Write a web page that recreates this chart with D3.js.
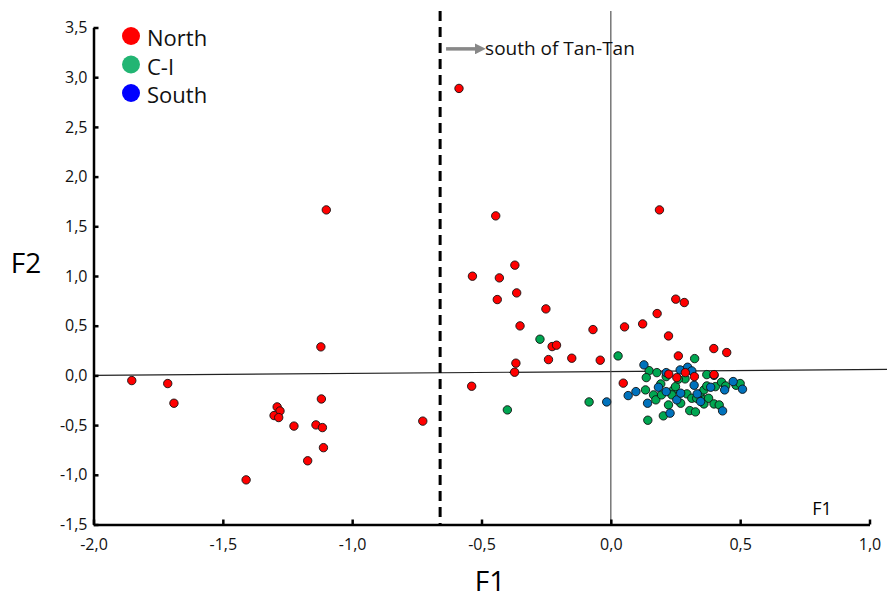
<!DOCTYPE html>
<html>
<head>
<meta charset="utf-8">
<script src="https://cdn.jsdelivr.net/npm/d3@7"></script>
<style>
  body { margin: 0; background: #fff; }
  .axis text { font-family: "Open Sans", sans-serif; font-size: 16px; fill: #111; }
  .axis path, .axis line { stroke: #000; stroke-width: 2.5; }
</style>
</head>
<body>
<div class="chart"></div>
<script>
// DATA ------------------------------
const groups = ["North", "C-I", "South"];
const groupColors = ["#ff0000", "#00a651", "#0072bc"];
const legendColors = ["#ff0000", "#22b573", "#0000ff"];
const xTicks = [-2.0, -1.5, -1.0, -0.5, 0.0, 0.5, 1.0];
const yTicks = [-1.5, -1.0, -0.5, 0.0, 0.5, 1.0, 1.5, 2.0, 2.5, 3.0, 3.5];

// [F1, F2]
const north = [
  [-1.852, -0.052], [-1.713, -0.082], [-1.689, -0.28], [-1.121, 0.287], [-1.119, -0.237],
  [-1.290, -0.317], [-1.279, -0.358], [-1.302, -0.404], [-1.284, -0.424], [-1.225, -0.51],
  [-1.140, -0.498], [-1.115, -0.525], [-1.111, -0.727], [-1.172, -0.859], [-1.410, -1.051],
  [-0.727, -0.46], [-1.100, 1.665], [-0.587, 2.887], [-0.445, 1.605], [-0.535, 0.998],
  [-0.431, 0.981], [-0.371, 1.109], [-0.439, 0.763], [-0.364, 0.83], [-0.251, 0.669],
  [-0.351, 0.498], [-0.069, 0.461], [0.053, 0.488], [0.123, 0.518], [0.179, 0.622],
  [-0.227, 0.29], [-0.210, 0.304], [-0.241, 0.159], [-0.151, 0.173], [-0.041, 0.153],
  [-0.367, 0.123], [-0.372, 0.032], [-0.538, -0.109], [0.048, -0.078], [0.188, 1.665],
  [0.251, 0.767], [0.284, 0.733], [0.223, 0.397], [0.261, 0.196], [0.398, 0.27],
  [0.448, 0.23], [0.224, 0.012], [0.255, -0.022], [0.288, 0.028], [0.323, -0.012],
  [0.399, 0.008]
];
const ci = [
  [-0.274, 0.364], [0.028, 0.196], [-0.400, -0.347], [-0.084, -0.267], [0.324, 0.169],
  [0.148, 0.048], [0.178, 0.028], [0.137, -0.022], [0.134, -0.146], [0.143, -0.451],
  [0.203, -0.407], [0.193, -0.086], [0.165, -0.196], [0.174, -0.246], [0.196, -0.196],
  [0.223, -0.297], [0.214, -0.012], [0.242, -0.146], [0.250, -0.113], [0.236, -0.196],
  [0.270, -0.28], [0.287, -0.035], [0.294, -0.186], [0.313, -0.23], [0.305, -0.354],
  [0.327, -0.367], [0.332, -0.23], [0.345, -0.186], [0.360, -0.146], [0.371, -0.106],
  [0.371, 0.008], [0.360, -0.246], [0.360, -0.287], [0.378, -0.23], [0.399, -0.287],
  [0.404, -0.113], [0.419, -0.297], [0.428, -0.068], [0.444, -0.106], [0.484, -0.099],
  [0.500, -0.082], [0.261, -0.038]
];
const south = [
  [0.128, 0.106], [-0.016, -0.267], [0.067, -0.203], [0.097, -0.163], [0.142, -0.28],
  [0.184, -0.119], [0.229, -0.38], [0.214, 0.028], [0.268, 0.055], [0.297, 0.082],
  [0.313, 0.045], [0.214, -0.163], [0.255, -0.246], [0.270, -0.179], [0.322, -0.099],
  [0.334, -0.186], [0.347, -0.263], [0.386, -0.119], [0.432, -0.357], [0.440, -0.146],
  [0.473, -0.062], [0.509, -0.139], [0.399, 0.0]
];

// CHART INIT ------------------------------
const width = 887, height = 602;

const svg = d3.select(".chart")
  .append("svg")
  .attr("width", width)
  .attr("height", height);

const xScale = d3.scaleLinear().domain([-2, 1]).range([93.5, 869.5]);
const yScale = d3.scaleLinear().domain([-1.5, 3.5]).range([524.5, 27.5]);

const fmt = v => v.toFixed(1).replace(".", ",");

// zero lines (the horizontal one is slightly tilted in the original)
svg.append("line")
  .attr("x1", xScale(-2)).attr("y1", yScale(0))
  .attr("x2", xScale(1.068)).attr("y2", yScale(0.06))
  .attr("stroke", "#222").attr("stroke-width", 1.2);

svg.append("line")
  .attr("x1", xScale(0)).attr("y1", 11)
  .attr("x2", xScale(0)).attr("y2", yScale(-1.5))
  .attr("stroke", "#555").attr("stroke-width", 1.2);

// dashed separator
svg.append("line")
  .attr("x1", xScale(-0.66)).attr("y1", 11)
  .attr("x2", xScale(-0.66)).attr("y2", yScale(-1.5))
  .attr("stroke", "#000").attr("stroke-width", 3)
  .attr("stroke-dasharray", "10,6");

// axes
svg.append("g")
  .attr("class", "axis x-axis")
  .attr("transform", `translate(0, ${yScale(-1.5)})`)
  .call(d3.axisBottom(xScale).tickValues(xTicks).tickFormat(fmt)
    .tickSizeInner(-5).tickSizeOuter(0).tickPadding(14));

svg.append("g")
  .attr("class", "axis y-axis")
  .attr("transform", `translate(${xScale(-2)}, 0)`)
  .call(d3.axisLeft(yScale).tickValues(yTicks).tickFormat(fmt)
    .tickSizeInner(-5).tickSizeOuter(0).tickPadding(6));

// points
const layers = [[ci, 1], [south, 2], [north, 0]];
layers.forEach(([pts, g]) => {
  svg.append("g").selectAll("circle")
    .data(pts)
    .join("circle")
    .attr("cx", d => xScale(d[0]))
    .attr("cy", d => yScale(d[1]))
    .attr("r", 4.2)
    .attr("fill", groupColors[g])
    .attr("stroke", "#111")
    .attr("stroke-width", 0.9);
});

// axis titles
svg.append("text")
  .attr("x", 490).attr("y", 591)
  .attr("text-anchor", "middle")
  .style("font-family", "Open Sans, sans-serif").style("font-size", "28px")
  .text("F1");

svg.append("text")
  .attr("x", 26).attr("y", 273)
  .attr("text-anchor", "middle")
  .style("font-family", "Open Sans, sans-serif").style("font-size", "28px")
  .text("F2");

svg.append("text")
  .attr("x", 822).attr("y", 515)
  .attr("text-anchor", "middle")
  .style("font-family", "Open Sans, sans-serif").style("font-size", "18px")
  .text("F1");

// annotation arrow
svg.append("defs").append("marker")
  .attr("id", "arrow")
  .attr("viewBox", "0 0 10 10")
  .attr("refX", 2).attr("refY", 5)
  .attr("markerWidth", 3.2).attr("markerHeight", 3.2)
  .attr("orient", "auto")
  .append("path")
  .attr("d", "M0,0L10,5L0,10Z")
  .attr("fill", "#888");

svg.append("line")
  .attr("x1", xScale(-0.637)).attr("y1", yScale(3.285))
  .attr("x2", xScale(-0.518)).attr("y2", yScale(3.285))
  .attr("stroke", "#888").attr("stroke-width", 3.5)
  .attr("marker-end", "url(#arrow)");

svg.append("text")
  .attr("x", xScale(-0.486)).attr("y", yScale(3.285) + 6)
  .style("font-family", "Open Sans, sans-serif").style("font-size", "19px")
  .style("fill", "#111")
  .text("south of Tan-Tan");

// legend
const legend = svg.append("g").attr("transform", "translate(131, 36)");
groups.forEach((name, i) => {
  const row = legend.append("g").attr("transform", `translate(0, ${i * 28.5})`);
  row.append("circle").attr("r", 9).attr("fill", legendColors[i]);
  row.append("text")
    .attr("x", 16).attr("y", 10)
    .style("font-family", "Open Sans, sans-serif").style("font-size", "22px")
    .style("fill", "#111")
    .text(name);
});
</script>
</body>
</html>
